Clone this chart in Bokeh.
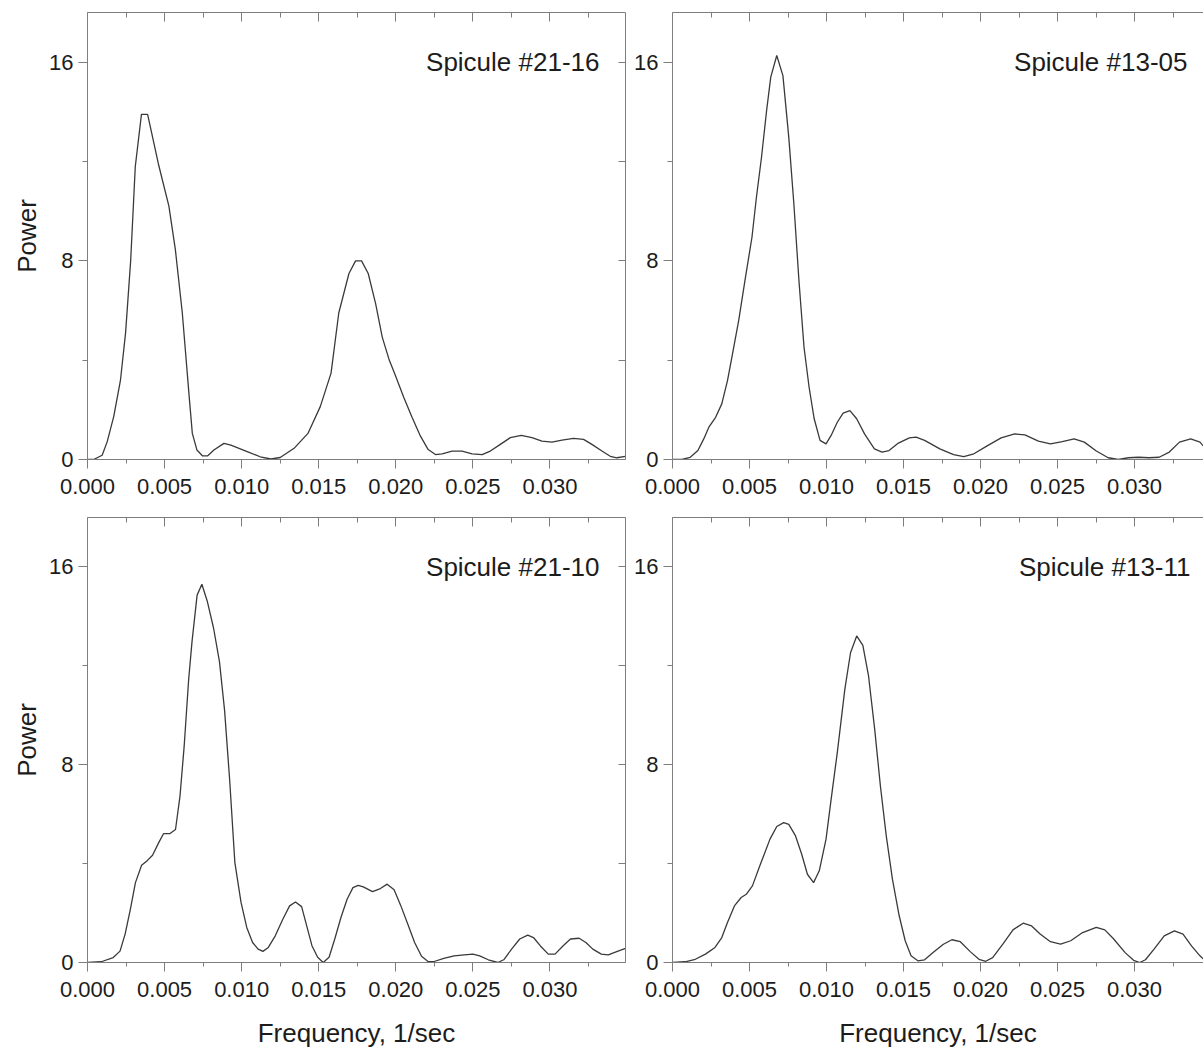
from bokeh.plotting import figure
from bokeh.models import Range1d, LinearAxis, FixedTicker, PrintfTickFormatter, CustomJSTickFormatter, Label
from bokeh.layouts import column, row
from bokeh.embed import file_html
from bokeh.resources import INLINE

# ---------------- data ----------------
freq_21_16 = [0.0, 0.0004, 0.00095, 0.00128, 0.0017, 0.00214, 0.00247, 0.0028, 0.0031, 0.0035, 0.0039,
              0.0046, 0.00528, 0.0057, 0.00615, 0.0066, 0.0068, 0.0071, 0.00745, 0.0078, 0.0082, 0.00885,
              0.0093, 0.0104, 0.0112, 0.0119, 0.0125, 0.0134, 0.0143, 0.0151, 0.0158, 0.0163, 0.01696,
              0.01739, 0.01778, 0.01821, 0.01869, 0.01912, 0.01955, 0.01998, 0.02052, 0.02106, 0.0216,
              0.0221, 0.02257, 0.02301, 0.02365, 0.0243, 0.02495, 0.0256, 0.02613, 0.02678, 0.02743,
              0.02814, 0.02883, 0.02948, 0.03013, 0.03078, 0.03153, 0.03218, 0.03272, 0.03337, 0.03391,
              0.03434, 0.0349]
power_21_16 = [0.0, 0.0, 0.17, 0.72, 1.73, 3.2, 5.1, 8.0, 11.8, 13.9, 13.9,
               11.9, 10.2, 8.45, 5.9, 2.5, 1.05, 0.38, 0.15, 0.15, 0.38, 0.65,
               0.58, 0.31, 0.11, 0.02, 0.08, 0.45, 1.05, 2.13, 3.48, 5.9, 7.49,
               8.0, 8.0, 7.49, 6.28, 4.93, 4.05, 3.37, 2.5, 1.69, 0.94,
               0.4, 0.2, 0.23, 0.34, 0.34, 0.23, 0.2, 0.34, 0.61, 0.88,
               0.97, 0.88, 0.74, 0.7, 0.78, 0.85, 0.81, 0.61, 0.34, 0.13,
               0.07, 0.13]

freq_13_05 = [0.0, 0.0006, 0.00115, 0.00165, 0.00203, 0.00236, 0.0028, 0.0032, 0.00357, 0.0039, 0.0043,
              0.00474, 0.00516, 0.00545, 0.00578, 0.00611, 0.00638, 0.00677, 0.00717, 0.00755, 0.00788,
              0.00821, 0.00854, 0.00887, 0.0092, 0.00958, 0.00997, 0.0103, 0.0107, 0.01108, 0.01152,
              0.01196, 0.01247, 0.01311, 0.01361, 0.01406, 0.01467, 0.01538, 0.01582, 0.01637, 0.01736,
              0.01825, 0.01891, 0.01957, 0.02046, 0.02134, 0.02222, 0.02288, 0.02376, 0.02454, 0.02531,
              0.02608, 0.02674, 0.02752, 0.02829, 0.02895, 0.02961, 0.03027, 0.03094, 0.0316, 0.03226,
              0.03292, 0.03365, 0.03425, 0.03453]
power_13_05 = [0.0, 0.0, 0.09, 0.36, 0.83, 1.3, 1.7, 2.24, 3.18, 4.26, 5.6,
               7.34, 8.95, 10.56, 12.17, 14.05, 15.4, 16.27, 15.46, 12.98, 10.3,
               7.21, 4.52, 2.91, 1.64, 0.77, 0.63, 0.97, 1.5, 1.87, 1.97,
               1.64, 1.03, 0.43, 0.3, 0.36, 0.66, 0.87, 0.9, 0.77, 0.43,
               0.2, 0.12, 0.23, 0.56, 0.87, 1.03, 0.99, 0.74, 0.63, 0.72,
               0.83, 0.7, 0.34, 0.07, 0.0, 0.07, 0.09, 0.07, 0.09, 0.3,
               0.7, 0.83, 0.7, 0.5]

freq_21_10 = [0.0, 0.00089, 0.00167, 0.00211, 0.00244, 0.00278, 0.00311, 0.00351, 0.00389, 0.00422,
              0.00462, 0.00493, 0.00533, 0.00571, 0.006, 0.00627, 0.00656, 0.00678, 0.00711, 0.00742,
              0.00778, 0.00818, 0.00856, 0.00889, 0.00922, 0.00956, 0.00996, 0.01033, 0.01071, 0.01107,
              0.01138, 0.01173, 0.01218, 0.01267, 0.01311, 0.01349, 0.01389, 0.01422, 0.01456, 0.01493,
              0.01529, 0.01567, 0.01604, 0.01644, 0.01684, 0.01722, 0.01756, 0.01789, 0.01849, 0.019,
              0.01944, 0.01989, 0.02033, 0.02078, 0.02122, 0.02167, 0.02211, 0.02244, 0.02311, 0.02378,
              0.02444, 0.025, 0.02544, 0.026, 0.02662, 0.027, 0.02751, 0.02804, 0.02856, 0.02893,
              0.02938, 0.02989, 0.03033, 0.03084, 0.03133, 0.03189, 0.03233, 0.03278, 0.03333, 0.03378,
              0.03433, 0.0349]
power_21_10 = [0.0, 0.03, 0.2, 0.46, 1.15, 2.15, 3.23, 3.93, 4.13, 4.34,
               4.85, 5.21, 5.21, 5.38, 6.73, 8.74, 11.43, 12.98, 14.86, 15.3,
               14.59, 13.52, 12.17, 10.22, 7.4, 4.04, 2.43, 1.42, 0.81, 0.54,
               0.45, 0.61, 1.08, 1.75, 2.29, 2.45, 2.26, 1.48, 0.68, 0.21,
               0.0, 0.21, 0.95, 1.82, 2.56, 3.03, 3.12, 3.06, 2.87, 2.99,
               3.17, 2.94, 2.29, 1.55, 0.81, 0.25, 0.03, 0.03, 0.17, 0.27,
               0.31, 0.34, 0.27, 0.11, 0.0, 0.11, 0.54, 0.95, 1.11, 1.01,
               0.67, 0.34, 0.34, 0.67, 0.95, 0.98, 0.81, 0.54, 0.34, 0.31,
               0.44, 0.57]

freq_13_11 = [0.0, 0.00082, 0.00148, 0.00214, 0.00276, 0.0032, 0.00357, 0.00402, 0.00446, 0.00479,
              0.00519, 0.00567, 0.00633, 0.00677, 0.00722, 0.00755, 0.00799, 0.00839, 0.00876, 0.00916,
              0.00953, 0.00997, 0.0103, 0.0107, 0.01119, 0.01156, 0.01196, 0.01236, 0.01273, 0.01313,
              0.0135, 0.01388, 0.01428, 0.01472, 0.01511, 0.01549, 0.01593, 0.01637, 0.01692, 0.01759,
              0.01814, 0.01869, 0.01935, 0.0199, 0.02034, 0.02079, 0.02145, 0.02211, 0.02277, 0.02332,
              0.02387, 0.02454, 0.0252, 0.02586, 0.02663, 0.02752, 0.02807, 0.02862, 0.02939, 0.02994,
              0.03034, 0.03071, 0.03127, 0.03193, 0.03259, 0.03315, 0.0337, 0.03425, 0.03453]
power_13_11 = [0.0, 0.03, 0.13, 0.34, 0.61, 1.01, 1.62, 2.29, 2.63, 2.76,
               3.1, 3.91, 4.99, 5.5, 5.66, 5.59, 5.12, 4.38, 3.57, 3.23,
               3.71, 4.99, 6.6, 8.49, 11.05, 12.53, 13.21, 12.83, 11.59, 9.43,
               7.14, 5.12, 3.37, 1.89, 0.88, 0.27, 0.07, 0.11, 0.4, 0.74,
               0.92, 0.84, 0.43, 0.13, 0.05, 0.2, 0.74, 1.32, 1.59, 1.48,
               1.15, 0.84, 0.74, 0.88, 1.21, 1.42, 1.32, 0.97, 0.4, 0.09,
               0.0, 0.11, 0.54, 1.08, 1.28, 1.15, 0.67, 0.27, 0.11]

panel_names = ["Spicule #21-16", "Spicule #13-05", "Spicule #21-10", "Spicule #13-11"]
x_major_ticks = [0.0, 0.005, 0.010, 0.015, 0.020, 0.025, 0.030]
x_minor_ticks = [0.0025, 0.0075, 0.0125, 0.0175, 0.0225, 0.0275, 0.0325]
y_major_ticks = [0, 8, 16]
y_minor_ticks = [4, 12]
y_right_ticks = [0, 4, 8, 12, 16]
x_axis_title = "Frequency, 1/sec"
y_axis_title = "Power"

# ---------------- style ----------------
FONT = "Liberation Sans"
AXIS_COL = "#7d7d7d"
LINE_COL = "#3a3a3a"
TEXT_COL = "#1c1c1c"


def blank_axis(ticks, minor, tick_in, minor_in):
    return LinearAxis(
        ticker=FixedTicker(ticks=ticks, minor_ticks=minor),
        formatter=CustomJSTickFormatter(code="return ''"),
        major_label_text_font_size="0px",
        major_label_standoff=0,
        major_tick_in=tick_in, major_tick_out=0,
        minor_tick_in=minor_in, minor_tick_out=0,
        axis_line_color=AXIS_COL,
        major_tick_line_color=AXIS_COL,
        minor_tick_line_color=AXIS_COL,
    )


def make_panel(xs, ys, name, x_end, width, height, borders, left_col, bottom_row, label_offset):
    bl, br, bt, bb = borders
    p = figure(width=width, height=height, title=None,
               x_range=Range1d(0, x_end), y_range=Range1d(0, 18),
               output_backend="svg", toolbar_location=None,
               min_border_left=bl, min_border_right=br,
               min_border_top=bt, min_border_bottom=bb)
    p.grid.visible = False
    p.outline_line_color = None
    p.background_fill_color = "white"
    p.border_fill_color = "white"

    p.line(xs, ys, line_color=LINE_COL, line_width=1.3)

    xa = p.xaxis[0]
    xa.ticker = FixedTicker(ticks=x_major_ticks, minor_ticks=x_minor_ticks)
    xa.formatter = PrintfTickFormatter(format="%.3f")
    ya = p.yaxis[0]
    ya.ticker = FixedTicker(ticks=y_major_ticks, minor_ticks=y_minor_ticks)
    ya.formatter = PrintfTickFormatter(format="%d")
    for ax, tout, mout, stand in ((xa, 9, 4, 10), (ya, 9, 5, 5)):
        ax.major_tick_out = tout
        ax.major_tick_in = 0
        ax.minor_tick_out = mout
        ax.minor_tick_in = 0
        ax.axis_line_color = AXIS_COL
        ax.major_tick_line_color = AXIS_COL
        ax.minor_tick_line_color = AXIS_COL
        ax.major_label_text_font = FONT
        ax.major_label_text_font_size = "22px"
        ax.major_label_text_color = TEXT_COL
        ax.major_label_standoff = stand
        ax.axis_label_text_font = FONT
        ax.axis_label_text_font_size = "26px"
        ax.axis_label_text_font_style = "normal"
        ax.axis_label_text_color = TEXT_COL

    if bottom_row:
        xa.axis_label = x_axis_title
        xa.axis_label_standoff = 18
    if left_col:
        ya.axis_label = y_axis_title
        ya.axis_label_standoff = 4

    p.add_layout(blank_axis(x_major_ticks, x_minor_ticks, 9, 5), "above")
    if left_col:
        p.add_layout(blank_axis(y_right_ticks, [], 7, 0), "right")

    p.add_layout(Label(x=x_end, y=16, x_offset=-label_offset, text=name,
                       text_align="right", text_baseline="middle",
                       text_font=FONT, text_font_size="26px", text_color=TEXT_COL))
    return p


L_W, R_W = 629, 574
T_H, B_H = 509, 541
X_END_L, X_END_R = 0.0349, 0.03448

p1 = make_panel(freq_21_16, power_21_16, panel_names[0], X_END_L, L_W, T_H, (87, 4, 12, 50), True, False, 26)
p2 = make_panel(freq_13_05, power_13_05, panel_names[1], X_END_R, R_W, T_H, (43, 0, 12, 50), False, False, 16)
p3 = make_panel(freq_21_10, power_21_10, panel_names[2], X_END_L, L_W, B_H, (87, 4, 8, 87), True, True, 26)
p4 = make_panel(freq_13_11, power_13_11, panel_names[3], X_END_R, R_W, B_H, (43, 0, 8, 87), False, True, 13)

layout = column(row(p1, p2, spacing=0), row(p3, p4, spacing=0), spacing=0)

with open("out.html", "w") as f:
    f.write(file_html(layout, INLINE))
